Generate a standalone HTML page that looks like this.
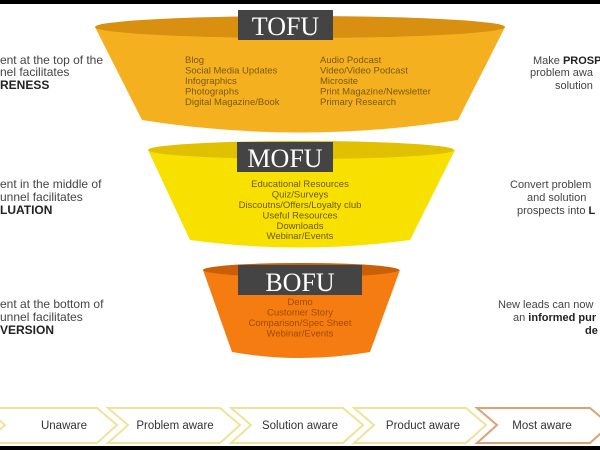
<!DOCTYPE html>
<html><head><meta charset="utf-8"><style>
html,body{margin:0;padding:0;background:#fff;width:600px;height:450px;overflow:hidden}
svg{display:block}
text{font-family:"Liberation Sans",sans-serif}
text.serif{font-family:"Liberation Serif",serif}
</style></head><body>
<svg width="600" height="450" viewBox="0 0 600 450">
<rect x="0" y="0" width="600" height="4" fill="#000"/>
<rect x="0" y="446" width="600" height="4" fill="#000"/>
<!-- TOFU -->
<path d="M95 27 L142 120 Q300 145 458 120 L505 27 Z" fill="#f5b020"/>
<ellipse cx="300" cy="27" rx="205" ry="11" fill="#d98f10"/>
<rect x="238" y="10" width="95" height="30" fill="#444"/>
<text class="serif" x="285.5" y="35" font-size="26" fill="#fff" text-anchor="middle">TOFU</text>
<g font-size="9.5" fill="#7a5a10">
<text x="185" y="63">Blog</text><text x="185" y="73.5">Social Media Updates</text><text x="185" y="84">Infographics</text><text x="185" y="94.5">Photographs</text><text x="185" y="105">Digital Magazine/Book</text>
<text x="320" y="63">Audio Podcast</text><text x="320" y="73.5">Video/Video Podcast</text><text x="320" y="84">Microsite</text><text x="320" y="94.5">Print Magazine/Newsletter</text><text x="320" y="105">Primary Research</text>
</g>
<!-- MOFU -->
<path d="M148 150 L190 240 Q300 255 410 240 L455 150 Z" fill="#f8e000"/>
<ellipse cx="301" cy="150" rx="153" ry="9" fill="#e0c000"/>
<rect x="237" y="142" width="96" height="30" fill="#444"/>
<text class="serif" x="285" y="167" font-size="26" fill="#fff" text-anchor="middle">MOFU</text>
<g font-size="9.5" fill="#6a5a10" text-anchor="middle">
<text x="300" y="187">Educational Resources</text><text x="300" y="197.5">Quiz/Surveys</text><text x="300" y="208">Discoutns/Offers/Loyalty club</text><text x="300" y="218.5">Useful Resources</text><text x="300" y="229">Downloads</text><text x="300" y="239">Webinar/Events</text>
</g>
<!-- BOFU -->
<path d="M203 270 L232 352 Q300 364 370 352 L400 270 Z" fill="#f57c10"/>
<ellipse cx="301" cy="270" rx="98" ry="7" fill="#c96008"/>
<rect x="238" y="265" width="124" height="30" fill="#444"/>
<text class="serif" x="300" y="291" font-size="26" fill="#fff" text-anchor="middle">BOFU</text>
<g font-size="9.5" fill="#a04a00" text-anchor="middle">
<text x="300" y="305">Demo</text><text x="300" y="315.5">Customer Story</text><text x="300" y="326">Comparison/Spec Sheet</text><text x="300" y="336.5">Webinar/Events</text>
</g>
<!-- left texts -->
<g font-size="12" fill="#444">
<text x="0" y="64" textLength="103">ent at the top of the</text><text x="0" y="76">nel facilitates</text><text x="0" y="89" font-weight="bold" fill="#222">RENESS</text>
<text x="0" y="188">ent in the middle of</text><text x="0" y="201">unnel facilitates</text><text x="0" y="214" font-weight="bold" fill="#222">LUATION</text>
<text x="0" y="308">ent at the bottom of</text><text x="0" y="321">unnel facilitates</text><text x="0" y="334" font-weight="bold" fill="#222">VERSION</text>
</g>
<g font-size="11" fill="#444">
<text x="533" y="64">Make <tspan font-weight="bold" fill="#222">PROSP</tspan></text><text x="530" y="76">problem awa</text><text x="555" y="89">solution</text>
<text x="510" y="188">Convert problem</text><text x="527" y="201">and solution</text><text x="517" y="214">prospects into <tspan font-weight="bold" fill="#222">L</tspan></text>
<text x="498" y="308">New leads can now</text><text x="513" y="321">an <tspan font-weight="bold" fill="#222">informed pur</tspan></text><text x="585" y="334" font-weight="bold" fill="#222">de</text>
</g>
<!-- chevrons -->
<g stroke-width="2" fill="#fff">
<polygon points="-15,408 97,408 117,425 97,443 -15,443 5,425" stroke="#efe39a"/>
<polygon points="108,408 220,408 240,425 220,443 108,443 128,425" stroke="#efe39a"/>
<polygon points="231,408 343,408 363,425 343,443 231,443 251,425" stroke="#efe39a"/>
<polygon points="354,408 466,408 486,425 466,443 354,443 374,425" stroke="#efe39a"/>
<polygon points="477,408 590,408 610,425 590,443 477,443 497,425" stroke="#e0a070"/>
</g>
<g font-size="11.5" fill="#333" text-anchor="middle">
<text x="64" y="429">Unaware</text><text x="175" y="429">Problem aware</text><text x="300" y="429">Solution aware</text><text x="423" y="429">Product aware</text><text x="542" y="429">Most aware</text>
</g>
</svg>
</body></html>
